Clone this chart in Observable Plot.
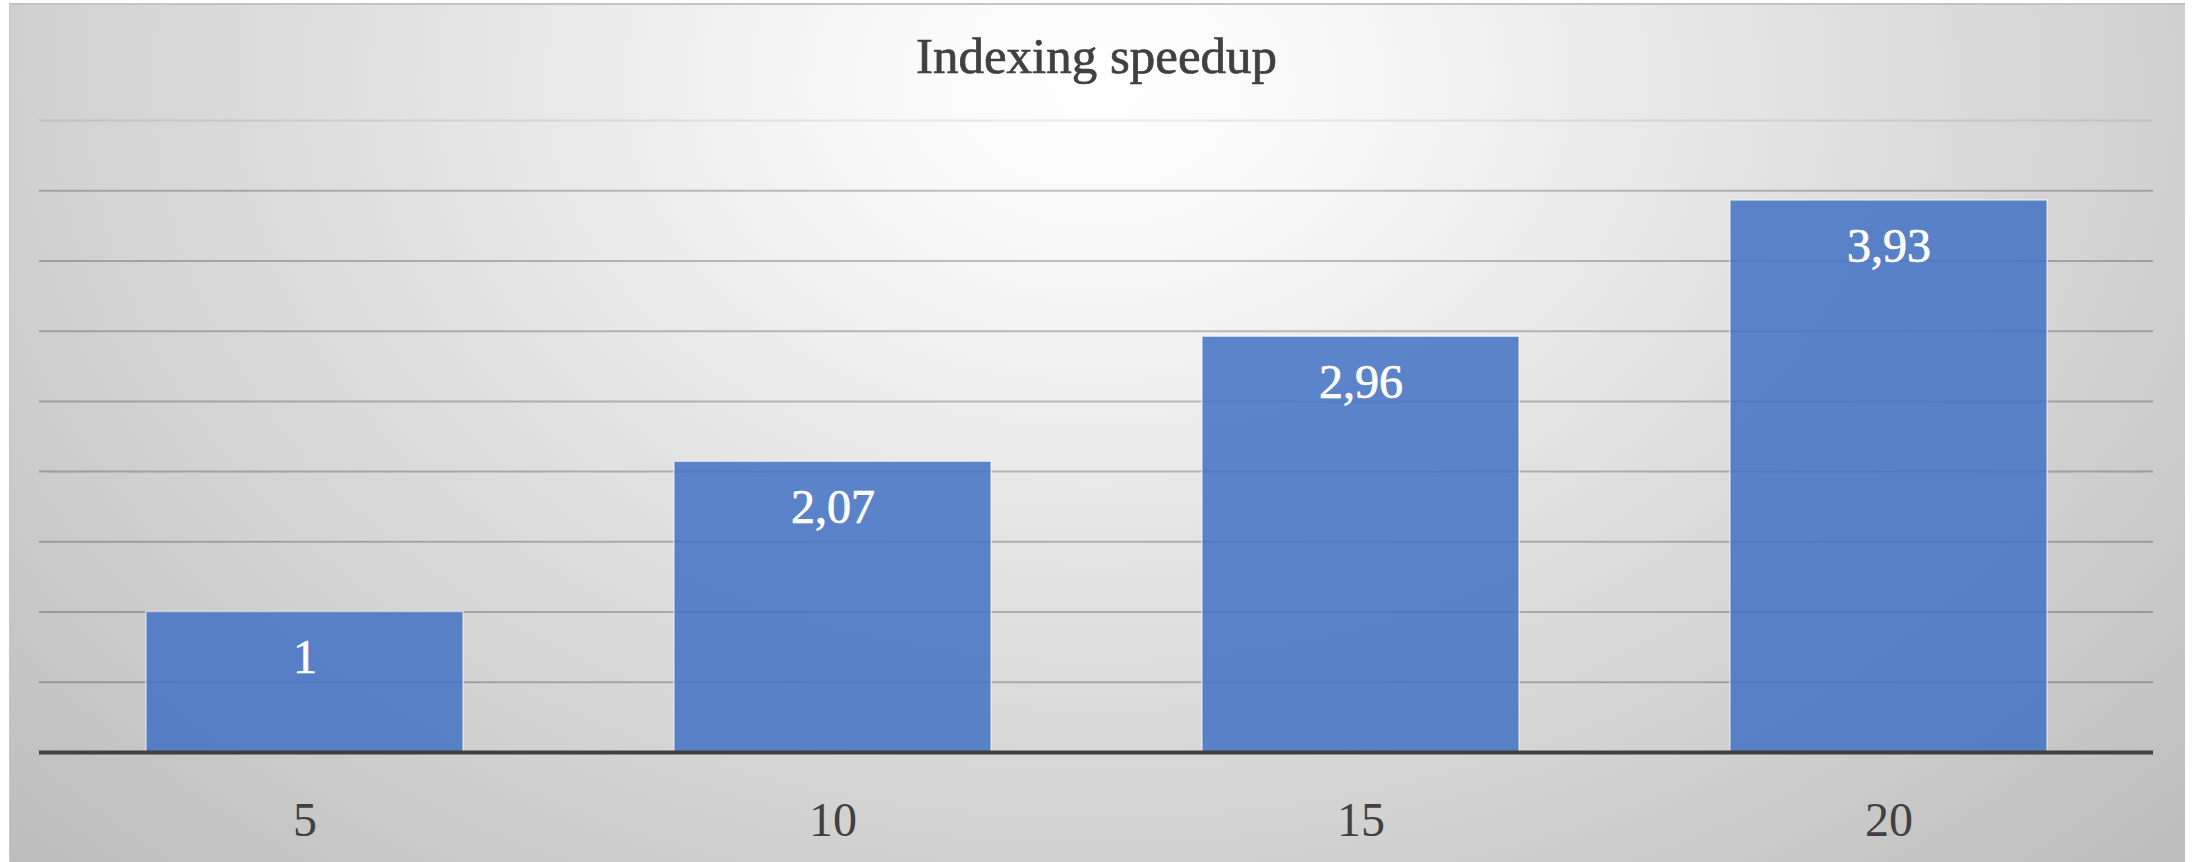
<!DOCTYPE html>
<html>
<head>
<meta charset="utf-8">
<script src="https://cdn.jsdelivr.net/npm/d3@7"></script>
<script src="https://cdn.jsdelivr.net/npm/@observablehq/plot@0.6"></script>
<style>
  html, body { margin: 0; padding: 0; background: #ffffff; }
  body { width: 2198px; height: 862px; position: relative; overflow: hidden; }
  #box {
    position: absolute; left: 9px; top: 3px; width: 2175px; height: 870px;
    background: radial-gradient(ellipse farthest-corner at 50% 9%, #ffffff 0%, #f8f8f8 15%, #e4e4e4 42%, #d2d2d2 68%, #bcbcbc 100%);
    border-top: 2px solid #c4c4c4; border-left: 1px solid #c8c8c8;
  }
  #title {
    position: absolute; left: 9px; top: 31px; width: 2175px; text-align: center;
    font-family: "Liberation Serif", "Times New Roman", serif; font-size: 51px; line-height: 51px;
    color: #404040; -webkit-text-stroke: 0.7px #404040;
  }
  #chart { position: absolute; left: 0; top: 100px; }
</style>
</head>
<body>
<div id="box"></div>
<div id="title">Indexing speedup</div>
<div id="chart"></div>
<script>
const threads = ["5", "10", "15", "20"];
const speedup = [1, 2.07, 2.96, 3.93];
const gridValues = [0.5, 1, 1.5, 2, 2.5, 3, 3.5, 4];
const topGrid = [4.5];

const data = threads.map((t, i) => ({threads: t, speedup: speedup[i]}));
const fmt = v => String(v).replace(".", ",");

const chart = Plot.plot({
  width: 2198,
  height: 762,
  marginLeft: 39,
  marginRight: 45,
  marginTop: 20,
  marginBottom: 110,
  style: {
    fontFamily: "'Liberation Serif', 'Times New Roman', serif",
    fontSize: "48px",
    background: "transparent",
    overflow: "visible"
  },
  x: { domain: threads, paddingInner: 0.4, paddingOuter: 0.2, label: null },
  y: { domain: [0, 4.5], axis: null, label: null },
  marks: [
    Plot.ruleY(gridValues, { stroke: "#000", strokeOpacity: 0.23, strokeWidth: 2 }),
    Plot.ruleY(topGrid, { stroke: "#000", strokeOpacity: 0.08, strokeWidth: 2 }),
    Plot.barY(data, {
      x: "threads", y: "speedup",
      fill: "#4472C4", fillOpacity: 0.86,
      stroke: "#ffffff", strokeOpacity: 0.55, strokeWidth: 1.5
    }),
    Plot.text(data, {
      x: "threads", y: "speedup",
      text: d => fmt(d.speedup),
      dy: 61, lineAnchor: "bottom",
      fill: "#ffffff", stroke: "#ffffff", strokeWidth: 0.7, fontSize: 48
    }),
    Plot.ruleY([0], { stroke: "#404040", strokeWidth: 4 }),
    Plot.axisX({ tickSize: 0, tickPadding: 49, fontSize: 48, fill: "#404040", stroke: "#404040", strokeWidth: 0.7, label: null })
  ]
});
document.getElementById("chart").appendChild(chart);
</script>
</body>
</html>
